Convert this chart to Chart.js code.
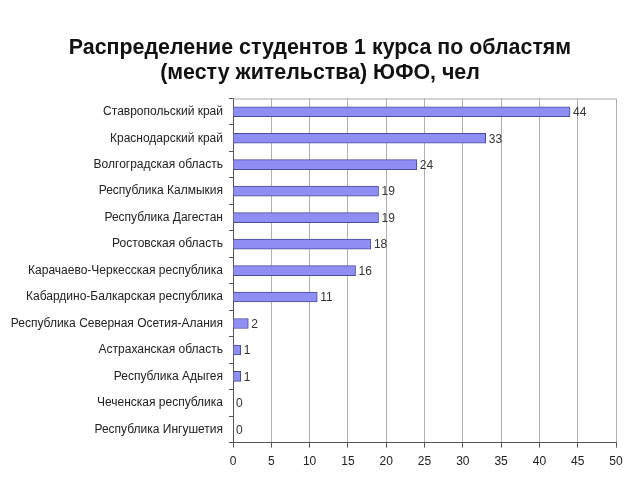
<!DOCTYPE html>
<html>
<head>
    <meta charset="utf-8">
    <title>Распределение студентов</title>
    <script src="https://cdn.jsdelivr.net/npm/chart.js"></script>
    <style>
        body { margin: 0; background: #fff; }
        #wrap { width: 640px; height: 480px; }
    </style>
</head>
<body>
    <div id="wrap"><canvas id="chart"></canvas></div>
    <script>
        var regions = [
            'Ставропольский край',
            'Краснодарский край',
            'Волгоградская область',
            'Республика Калмыкия',
            'Республика Дагестан',
            'Ростовская область',
            'Карачаево-Черкесская республика',
            'Кабардино-Балкарская республика',
            'Республика Северная Осетия-Алания',
            'Астраханская область',
            'Республика Адыгея',
            'Чеченская республика',
            'Республика Ингушетия'
        ];
        var students = [44, 33, 24, 19, 19, 18, 16, 11, 2, 1, 1, 0, 0];
        var xTicks = [0, 5, 10, 15, 20, 25, 30, 35, 40, 45, 50];

        // value next to each bar + thin line along the top of the plot
        var barValues = {
            id: 'barValues',
            afterDatasetsDraw: function (chart) {
                var ctx = chart.ctx;
                var area = chart.chartArea;
                ctx.save();
                ctx.strokeStyle = '#a8a8a8';
                ctx.lineWidth = 1;
                ctx.beginPath();
                ctx.moveTo(area.left, area.top + 0.5);
                ctx.lineTo(area.right, area.top + 0.5);
                ctx.stroke();

                ctx.font = '12px Arial, "Liberation Sans"';
                ctx.fillStyle = '#333';
                ctx.textBaseline = 'middle';
                ctx.textAlign = 'left';
                chart.getDatasetMeta(0).data.forEach(function (bar, i) {
                    ctx.fillText(students[i], bar.x + 3, bar.y + 1);
                });
                ctx.restore();
            }
        };

        var ctx = document.getElementById('chart').getContext('2d');
        var chart = new Chart(ctx, {
            type: 'bar',
            data: {
                labels: regions,
                datasets: [{
                    data: students,
                    backgroundColor: '#8e8ef5',
                    borderColor: '#4b4b9c',
                    borderWidth: 1,
                    barThickness: 10
                }]
            },
            plugins: [barValues],
            options: {
                indexAxis: 'y',
                responsive: true,
                maintainAspectRatio: false,
                animation: false,
                layout: {
                    padding: { left: 0, right: 0, top: 0, bottom: 4 }
                },
                plugins: {
                    legend: { display: false },
                    tooltip: { enabled: false },
                    title: {
                        display: true,
                        text: ['Распределение студентов 1 курса по областям', '(месту жительства) ЮФО, чел'],
                        color: '#111',
                        font: { family: 'Arial, "Liberation Sans"', size: 21.4, weight: 'bold', lineHeight: 1.18 },
                        padding: { top: 35, bottom: 13 }
                    }
                },
                scales: {
                    x: {
                        min: 0,
                        max: 50,
                        afterBuildTicks: function (scale) {
                            scale.ticks = xTicks.map(function (v) { return { value: v }; });
                        },
                        afterFit: function (scale) { scale.paddingRight = 24; },
                        grid: {
                            color: '#b0b0b0',
                            tickColor: '#555',
                            tickLength: 5
                        },
                        border: { color: '#555' },
                        ticks: {
                            color: '#222',
                            padding: 7,
                            font: { family: 'Arial, "Liberation Sans"', size: 12 }
                        }
                    },
                    y: {
                        afterFit: function (scale) { scale.width = 233; },
                        grid: {
                            offset: true,
                            drawOnChartArea: false,
                            tickColor: '#555',
                            tickLength: 4
                        },
                        border: { color: '#555' },
                        ticks: {
                            color: '#222',
                            padding: 6,
                            font: { family: 'Arial, "Liberation Sans"', size: 12 }
                        }
                    }
                }
            }
        });
    </script>
</body>
</html>
